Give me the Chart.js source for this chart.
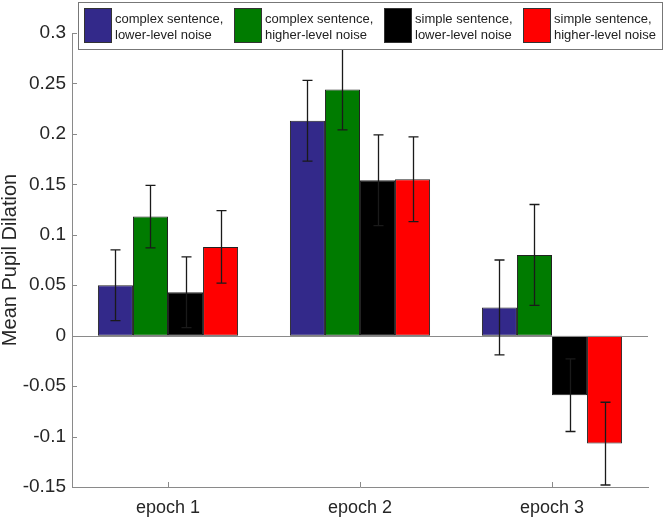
<!DOCTYPE html>
<html>
<head>
<meta charset="utf-8">
<script src="https://cdn.jsdelivr.net/npm/chart.js@4.4.0/dist/chart.umd.min.js"></script>
<style>
  html, body { margin: 0; padding: 0; background: #fff; }
  #wrap { width: 666px; height: 517px; }
</style>
</head>
<body>
<div id="wrap"><canvas id="grafico" width="666" height="517"></canvas></div>
<script>
const epocas = ["epoch 1", "epoch 2", "epoch 3"];
const nomesSeries = [
  ["complex sentence,", "lower-level noise"],
  ["complex sentence,", "higher-level noise"],
  ["simple sentence,", "lower-level noise"],
  ["simple sentence,", "higher-level noise"]
];
const coresSeries = ["#33298a", "#007b00", "#000000", "#ff0000"];

const complexoBaixo = [0.050, 0.213, 0.028];
const complexoAlto = [0.118, 0.244, 0.080];
const simplesBaixo = [0.043, 0.154, -0.059];
const simplesAlto = [0.088, 0.155, -0.107];

const erroComplexoBaixo = [0.035, 0.040, 0.047];
const erroComplexoAlto = [0.031, 0.040, 0.050];
const erroSimplesBaixo = [0.035, 0.045, 0.036];
const erroSimplesAlto = [0.036, 0.042, 0.041];

const valores = [complexoBaixo, complexoAlto, simplesBaixo, simplesAlto];
const erros = [erroComplexoBaixo, erroComplexoAlto, erroSimplesBaixo, erroSimplesAlto];

const corEixo = "#8a8a8a";
const fonte = "'Liberation Sans', Arial, sans-serif";

// error bars, inward ticks and the zero line
const pluginExtras = {
  id: "extras",
  afterDatasetsDraw(chart) {
    const ctx = chart.ctx;
    const y = chart.scales.y;
    const x = chart.scales.x;
    const area = chart.chartArea;
    ctx.save();

    // zero line
    ctx.strokeStyle = corEixo;
    ctx.lineWidth = 1;
    const y0 = Math.round(y.getPixelForValue(0)) + 0.5;
    ctx.beginPath();
    ctx.moveTo(area.left, y0);
    ctx.lineTo(area.right, y0);
    ctx.stroke();

    // ticks pointing inside
    y.ticks.forEach(t => {
      const py = Math.round(y.getPixelForValue(t.value)) + 0.5;
      ctx.beginPath();
      ctx.moveTo(area.left, py);
      ctx.lineTo(area.left + 5, py);
      ctx.stroke();
    });
    epocas.forEach((_, i) => {
      const px = Math.round(x.getPixelForValue(i)) + 0.5;
      ctx.beginPath();
      ctx.moveTo(px, area.bottom);
      ctx.lineTo(px, area.bottom - 5);
      ctx.stroke();
    });

    // error bars
    ctx.strokeStyle = "#1a1a1a";
    ctx.lineWidth = 1.3;
    chart.data.datasets.forEach((ds, d) => {
      const meta = chart.getDatasetMeta(d);
      meta.data.forEach((barra, i) => {
        const v = ds.data[i];
        const e = erros[d][i];
        const px = Math.round(barra.x) + 0.5;
        const topo = y.getPixelForValue(v + e);
        const base = y.getPixelForValue(v - e);
        ctx.beginPath();
        ctx.moveTo(px, topo);
        ctx.lineTo(px, base);
        ctx.moveTo(px - 5, topo);
        ctx.lineTo(px + 5, topo);
        ctx.moveTo(px - 5, base);
        ctx.lineTo(px + 5, base);
        ctx.stroke();
      });
    });
    ctx.restore();
  },
  afterDraw(chart) {
    // legend box with two-line labels
    const ctx = chart.ctx;
    ctx.save();
    ctx.fillStyle = "#fff";
    ctx.fillRect(78, 2, 585, 48);
    ctx.strokeStyle = "#777";
    ctx.lineWidth = 1;
    ctx.strokeRect(78.5, 2.5, 584, 47);
    const inicios = [84, 234, 384, 523];
    ctx.font = "13px " + fonte;
    ctx.textBaseline = "middle";
    chart.data.datasets.forEach((ds, d) => {
      const x0 = inicios[d];
      ctx.fillStyle = ds.backgroundColor;
      ctx.fillRect(x0, 8, 28, 35);
      ctx.strokeStyle = "#333";
      ctx.strokeRect(x0 + 0.5, 8.5, 27, 34);
      ctx.fillStyle = "#222";
      ctx.textAlign = "left";
      ctx.fillText(nomesSeries[d][0], x0 + 31, 19);
      ctx.fillText(nomesSeries[d][1], x0 + 31, 35);
    });
    ctx.restore();
  }
};

const graficoBarras = new Chart(document.getElementById("grafico").getContext("2d"), {
  type: "bar",
  data: {
    labels: epocas,
    datasets: valores.map((serie, d) => ({
      label: nomesSeries[d].join(" "),
      data: serie,
      backgroundColor: coresSeries[d],
      borderColor: "#222",
      borderWidth: 1,
      borderSkipped: false,
      categoryPercentage: 0.73,
      barPercentage: 1.0
    }))
  },
  options: {
    responsive: false,
    animation: false,
    layout: { padding: { top: 33, right: 18, left: 0, bottom: 0 } },
    plugins: {
      legend: { display: false },
      tooltip: { enabled: false }
    },
    scales: {
      x: {
        grid: { display: false, drawTicks: false },
        border: { color: corEixo, width: 1 },
        ticks: { color: "#262626", font: { size: 18, family: fonte }, padding: 10 },
        afterFit: s => { s.height = 30; }
      },
      y: {
        min: -0.15,
        max: 0.3,
        grid: { display: false, drawTicks: false },
        border: { color: corEixo, width: 1 },
        ticks: {
          stepSize: 0.05,
          color: "#262626",
          font: { size: 19, family: fonte },
          padding: 6,
          callback: v => String(Number(v.toFixed(2)))
        },
        title: {
          display: true,
          text: "Mean Pupil Dilation",
          color: "#262626",
          font: { size: 20, family: fonte, lineHeight: 1 },
          padding: { top: 0, bottom: 0 }
        },
        afterFit: s => { s.width = 72; }
      }
    }
  },
  plugins: [pluginExtras]
});
</script>
</body>
</html>
